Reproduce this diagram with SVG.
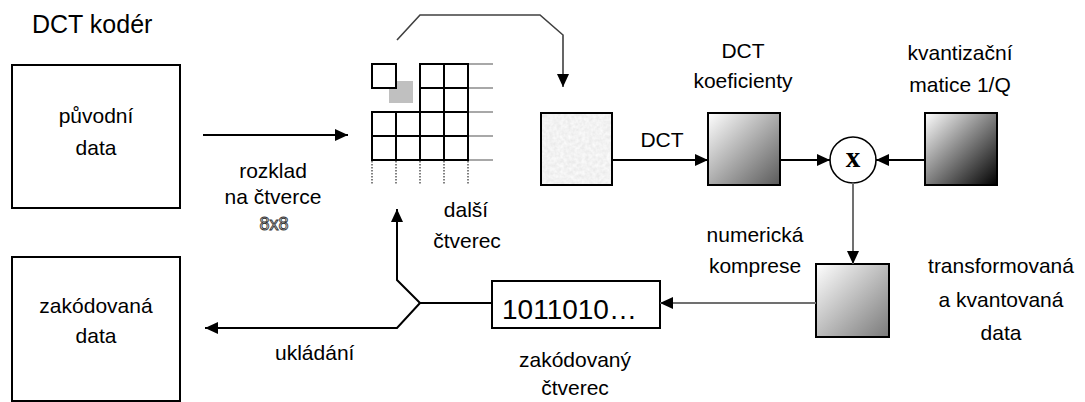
<svg xmlns="http://www.w3.org/2000/svg" width="1085" height="402" viewBox="0 0 1085 402">
<style>
  text { font-family: "Liberation Sans", Arial, sans-serif; font-size: 21px; fill: #000; }
  .c { text-anchor: middle; }
  .box { fill: #fff; stroke: #000; stroke-width: 2; }
  .cell { fill: #fff; stroke: #000; stroke-width: 2; }
  .conn { fill: none; stroke: #000; stroke-width: 2; }
  .grey { stroke: #707070; }
  .thin { stroke: #404040; stroke-width: 1.6; }
  .ext { stroke: #a8a8a8; stroke-width: 2; }
  .dots { stroke: #808080; stroke-width: 2; stroke-dasharray: 1.5 1.5; }
</style>
<defs>
  <marker id="ah" markerUnits="userSpaceOnUse" markerWidth="14" markerHeight="12" refX="13" refY="6" orient="auto">
    <path d="M0,0 L13,6 L0,12 Z" fill="#000"/>
  </marker>
  <linearGradient id="g1" x1="0" y1="0" x2="1" y2="1">
    <stop offset="0" stop-color="#ffffff"/>
    <stop offset="1" stop-color="#5a5a5a"/>
  </linearGradient>
  <linearGradient id="g2" x1="0" y1="0" x2="1" y2="1">
    <stop offset="0" stop-color="#ffffff"/>
    <stop offset="1" stop-color="#000000"/>
  </linearGradient>
  <linearGradient id="g3" x1="0" y1="0" x2="1" y2="1">
    <stop offset="0" stop-color="#ffffff"/>
    <stop offset="1" stop-color="#7a7a7a"/>
  </linearGradient>
  <filter id="speck" x="0" y="0" width="100%" height="100%">
    <feTurbulence type="fractalNoise" baseFrequency="0.28" numOctaves="2" seed="4"/>
    <feColorMatrix type="matrix" values="0.22 0 0 0 0.78  0.22 0 0 0 0.78  0.22 0 0 0 0.78  0 0 0 0 1"/>
    <feComposite in2="SourceGraphic" operator="in"/>
  </filter>
</defs>

<text x="32" y="33" style="font-size:25px">DCT kodér</text>

<g id="puvodni-data">
  <rect class="box" x="12" y="65" width="168" height="143"/>
  <text class="c" x="96" y="123">původní</text>
  <text class="c" x="96" y="155">data</text>
</g>

<g id="zakodovana-data">
  <rect class="box" x="12" y="257" width="168" height="144"/>
  <text class="c" x="96" y="313">zakódovaná</text>
  <text class="c" x="96" y="343">data</text>
</g>

<g id="rozklad-label">
  <text class="c" x="273" y="178">rozklad</text>
  <text class="c" x="273" y="204">na čtverce</text>
  <text class="c" x="274" y="230" style="font-size:18px;fill:#fff;stroke:#333;stroke-width:0.9">8x8</text>
</g>

<g id="mrizka">
  <line class="ext" x1="468" y1="64" x2="493" y2="64"/>
  <line class="ext" x1="468" y1="88" x2="493" y2="88"/>
  <line class="ext" x1="468" y1="112" x2="493" y2="112"/>
  <line class="ext" x1="468" y1="136" x2="493" y2="136"/>
  <line class="ext" x1="468" y1="160" x2="493" y2="160"/>
  <line class="dots" x1="372" y1="161" x2="372" y2="185"/>
  <line class="dots" x1="396" y1="161" x2="396" y2="185"/>
  <line class="dots" x1="420" y1="161" x2="420" y2="185"/>
  <line class="dots" x1="444" y1="161" x2="444" y2="185"/>
  <line class="dots" x1="468" y1="161" x2="468" y2="185"/>
  <rect x="389" y="81" width="24" height="22" fill="#c0c0c0"/>
  <rect class="cell" x="372" y="64" width="24" height="24"/>
  <rect class="cell" x="420" y="64" width="24" height="24"/>
  <rect class="cell" x="444" y="64" width="24" height="24"/>
  <rect class="cell" x="420" y="88" width="24" height="24"/>
  <rect class="cell" x="444" y="88" width="24" height="24"/>
  <rect class="cell" x="372" y="112" width="24" height="24"/>
  <rect class="cell" x="396" y="112" width="24" height="24"/>
  <rect class="cell" x="420" y="112" width="24" height="24"/>
  <rect class="cell" x="444" y="112" width="24" height="24"/>
  <rect class="cell" x="372" y="136" width="24" height="24"/>
  <rect class="cell" x="396" y="136" width="24" height="24"/>
  <rect class="cell" x="420" y="136" width="24" height="24"/>
  <rect class="cell" x="444" y="136" width="24" height="24"/>
  <text class="c" x="466" y="217">další</text>
  <text class="c" x="467" y="248">čtverec</text>
</g>

<g id="blok">
  <rect x="541" y="113" width="71" height="72" fill="#eee" filter="url(#speck)"/>
  <rect x="541" y="113" width="71" height="72" fill="none" stroke="#000" stroke-width="2"/>
</g>

<g id="dct-koeficienty">
  <rect x="708" y="113" width="72" height="72" fill="url(#g1)" stroke="#000" stroke-width="2"/>
  <text class="c" x="743" y="58">DCT</text>
  <text class="c" x="743" y="88">koeficienty</text>
</g>

<g id="kvantizacni-matice">
  <rect x="925" y="113" width="72" height="72" fill="url(#g2)" stroke="#000" stroke-width="2"/>
  <text class="c" x="960" y="60">kvantizační</text>
  <text class="c" x="960" y="92">matice 1/Q</text>
</g>

<g id="nasobeni">
  <circle cx="853" cy="160" r="23" fill="#fff" stroke="#000" stroke-width="1.6"/>
  <text class="c" x="853" y="167" style="font-family:'Liberation Serif','Times New Roman',serif;font-size:29px;font-weight:bold">x</text>
</g>

<g id="transformovana-data">
  <rect x="816" y="264" width="73" height="73" fill="url(#g3)" stroke="#000" stroke-width="2"/>
  <text class="c" x="1001" y="273">transformovaná</text>
  <text class="c" x="1001" y="307">a kvantovaná</text>
  <text class="c" x="1001" y="340">data</text>
</g>

<g id="numericka-komprese">
  <text class="c" x="755" y="242">numerická</text>
  <text class="c" x="755" y="273">komprese</text>
</g>

<g id="zakodovany-ctverec">
  <rect class="box" x="492" y="281" width="168" height="47"/>
  <text x="502" y="319" style="font-size:28px">1011010…</text>
  <text class="c" x="575" y="367">zakódovaný</text>
  <text class="c" x="575" y="395">čtverec</text>
</g>

<g id="connectors">
  <line class="conn" x1="203" y1="135" x2="348" y2="135" marker-end="url(#ah)"/>
  <polyline class="conn thin" points="397,40 420,15 540,15 563,35 563,87" marker-end="url(#ah)"/>
  <line class="conn" x1="612" y1="160" x2="708" y2="160" marker-end="url(#ah)"/>
  <text class="c" x="662" y="147">DCT</text>
  <line class="conn" x1="780" y1="160" x2="830" y2="160" marker-end="url(#ah)"/>
  <line class="conn" x1="925" y1="160" x2="876" y2="160" marker-end="url(#ah)"/>
  <line class="conn grey" x1="853" y1="183" x2="853" y2="264" marker-end="url(#ah)"/>
  <line class="conn grey" x1="816" y1="303" x2="660" y2="303" marker-end="url(#ah)"/>
  <polyline class="conn" points="492,303 420,303 397,280 397,209" marker-end="url(#ah)"/>
  <polyline class="conn" points="420,303 397,328 205,328" marker-end="url(#ah)"/>
  <text x="275" y="360">ukládání</text>
</g>
</svg>
